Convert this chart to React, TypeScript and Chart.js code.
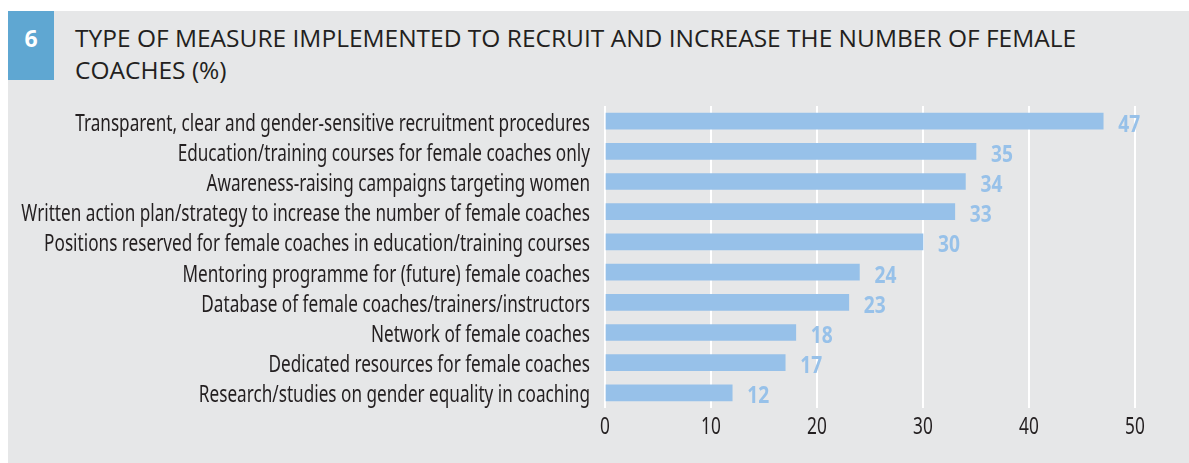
import React, { useEffect, useRef } from "react";
import { Chart, registerables } from "chart.js";

Chart.register(...registerables);

const categories: string[] = [
  "Transparent, clear and gender-sensitive recruitment procedures",
  "Education/training courses for female coaches only",
  "Awareness-raising campaigns targeting women",
  "Written action plan/strategy to increase the number of female coaches",
  "Positions reserved for female coaches in education/training courses",
  "Mentoring programme for (future) female coaches",
  "Database of female coaches/trainers/instructors",
  "Network of female coaches",
  "Dedicated resources for female coaches",
  "Research/studies on gender equality in coaching",
];
const values: number[] = [47, 35, 34, 33, 30, 24, 23, 18, 17, 12];
const xTicks: number[] = [0, 10, 20, 30, 40, 50];

const titleLine1 = "TYPE OF MEASURE IMPLEMENTED TO RECRUIT AND INCREASE THE NUMBER OF FEMALE";
const titleLine2 = "COACHES (%)";
const figureNumber = "6";

const BG = "#e6e7e8";
const BAR = "#97c1e9";
const TEXT = "#231f20";
const BASE_FONT = "'Noto Sans', 'Open Sans', sans-serif";
const SX_LABEL = 0.715;
const SX_TICK = 0.72;
const SX_VALUE = 0.8;

function condensedText(
  ctx: CanvasRenderingContext2D,
  text: string,
  x: number,
  y: number,
  sx: number
) {
  ctx.save();
  ctx.translate(x, y);
  ctx.scale(sx, 1);
  ctx.fillText(text, 0, 0);
  ctx.restore();
}

const textPlugin = {
  id: "condensedLabels",
  afterDatasetsDraw(chart: any) {
    const ctx: CanvasRenderingContext2D = chart.ctx;
    const area = chart.chartArea;
    const yScale = chart.scales.y;
    const xScale = chart.scales.x;
    const meta = chart.getDatasetMeta(0);
    ctx.save();
    ctx.textBaseline = "alphabetic";

    // category labels
    ctx.font = `24px ${BASE_FONT}`;
    ctx.fillStyle = TEXT;
    ctx.textAlign = "right";
    categories.forEach((label, i) => {
      const y = yScale.getPixelForTick(i);
      condensedText(ctx, label, area.left - 15, y + 9.5, SX_LABEL);
    });

    // x tick labels
    ctx.textAlign = "center";
    xTicks.forEach((v) => {
      const x = xScale.getPixelForValue(v);
      condensedText(ctx, String(v), x, area.bottom + 26, SX_TICK);
    });

    // value labels
    ctx.font = `bold 24px ${BASE_FONT}`;
    ctx.fillStyle = BAR;
    ctx.textAlign = "left";
    meta.data.forEach((bar: any, i: number) => {
      condensedText(ctx, String(values[i]), bar.x + 15, bar.y + 10.5, SX_VALUE);
    });
    ctx.restore();
  },
};

export default function App() {
  const ref = useRef<HTMLCanvasElement>(null);
  useEffect(() => {
    if (!ref.current) return;
    const chart = new Chart(ref.current, {
      type: "bar",
      data: {
        labels: categories,
        datasets: [
          {
            data: values,
            backgroundColor: BAR,
            barThickness: 16,
          },
        ],
      },
      options: {
        indexAxis: "y",
        animation: false,
        responsive: false,
        maintainAspectRatio: false,
        layout: { padding: { top: 16, right: 54, bottom: 25, left: 0 } },
        plugins: { legend: { display: false }, tooltip: { enabled: false } },
        scales: {
          x: {
            min: 0,
            max: 50,
            afterBuildTicks: (scale: any) => {
              scale.ticks = xTicks.map((v) => ({ value: v }));
            },
            afterFit: (scale: any) => {
              scale.height = 30;
            },
            grid: { color: "#ffffff", lineWidth: 2, drawTicks: false },
            border: { display: false },
            ticks: { display: false },
          },
          y: {
            afterFit: (scale: any) => {
              scale.width = 597;
            },
            grid: { display: false, drawTicks: false },
            border: { display: false },
            ticks: { display: false, autoSkip: false },
          },
        },
      },
      plugins: [textPlugin],
    });
    return () => chart.destroy();
  }, []);

  return (
    <div
      style={{
        position: "fixed",
        left: 8,
        top: 11,
        width: 1181,
        height: 452,
        background: BG,
        overflow: "hidden",
      }}
    >
      <div
        style={{
          position: "absolute",
          left: 0,
          top: 0,
          width: 46,
          height: 69,
          background: "#5fa7d2",
        }}
      />
      <div
        style={{
          position: "absolute",
          left: 0,
          top: 11,
          width: 46,
          textAlign: "center",
          color: "#ffffff",
          fontFamily: "'Open Sans', sans-serif",
          fontWeight: 700,
          fontSize: 23,
          lineHeight: "32px",
        }}
      >
        {figureNumber}
      </div>
      <div
        style={{
          position: "absolute",
          left: 67,
          top: 11,
          color: TEXT,
          fontFamily: "'Open Sans', sans-serif",
          fontSize: 24.5,
          lineHeight: "32px",
          whiteSpace: "nowrap",
        }}
      >
        <div>{titleLine1}</div>
        <div>{titleLine2}</div>
      </div>
      <div style={{ position: "absolute", left: 0, top: 79, width: 1181, height: 373 }}>
        <canvas ref={ref} width={1181} height={373} style={{ display: "block" }} />
      </div>
    </div>
  );
}
